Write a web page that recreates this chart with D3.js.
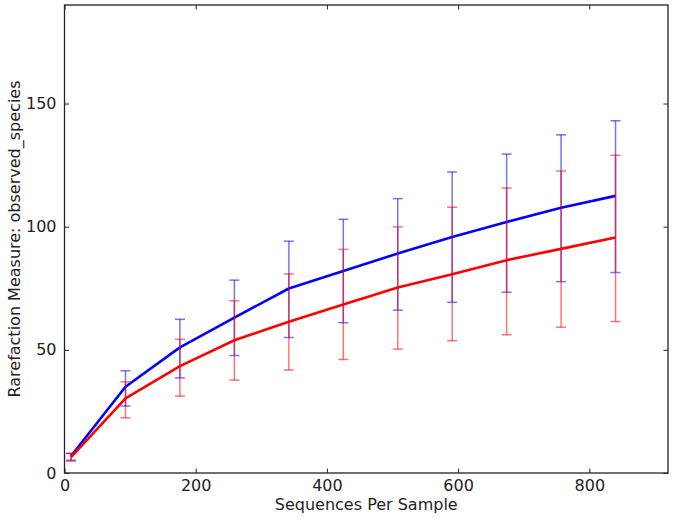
<!DOCTYPE html>
<html>
<head>
<meta charset="utf-8">
<script src="https://cdn.jsdelivr.net/npm/d3@7/dist/d3.min.js"></script>
<style>
  html, body { margin: 0; padding: 0; background: #fff; }
  svg { display: block; }
  text { font-family: "DejaVu Sans", sans-serif; fill: #222; }
</style>
</head>
<body>
<script>
const seqPerSample = [10, 93, 176, 259, 342, 425, 508, 591, 674, 757, 840];

const blueMean  = [6.9, 35.0, 51.0, 63.1, 74.9, 82.0, 89.1, 95.8, 101.9, 107.7, 112.5];
const blueLow   = [5.2, 27.2, 38.6, 47.7, 55.0, 61.0, 66.1, 69.3, 73.4, 77.7, 81.4];
const blueHigh  = [8.0, 41.5, 62.4, 78.3, 94.1, 103.0, 111.4, 122.2, 129.5, 137.3, 143.0];

const redMean   = [6.4, 30.3, 43.4, 53.9, 61.4, 68.4, 75.3, 80.7, 86.4, 91.0, 95.6];
const redLow    = [4.8, 22.4, 31.2, 37.7, 41.8, 46.1, 50.3, 53.7, 56.1, 59.2, 61.5];
const redHigh   = [7.9, 37.0, 54.3, 69.9, 80.8, 90.8, 99.9, 107.9, 115.7, 122.6, 129.0];

const xTicks = [0, 200, 400, 600, 800];
const yTicks = [0, 50, 100, 150];
const xTitle = "Sequences Per Sample";
const yTitle = "Rarefaction Measure: observed_species";

const W = 676, H = 519;
const m = { left: 64.5, right: 8, top: 5, bottom: 46 };
const FS = 16;

const svg = d3.select("body").append("svg").attr("width", W).attr("height", H);

const x = d3.scaleLinear().domain([0, 920]).range([m.left, W - m.right]);
const y = d3.scaleLinear().domain([0, 190]).range([H - m.bottom, m.top]);

const series = [
  { color: "#0000ff", mean: blueMean, low: blueLow, high: blueHigh },
  { color: "#ff0000", mean: redMean, low: redLow, high: redHigh }
];

const g = svg.append("g");
series.forEach(s => {
  const pts = seqPerSample.map((v, i) => ({ x: v, m: s.mean[i], lo: s.low[i], hi: s.high[i] }));
  const eb = g.append("g").attr("stroke", s.color).attr("stroke-opacity", 0.55).attr("stroke-width", 1.5);
  pts.forEach(p => {
    eb.append("line").attr("x1", x(p.x)).attr("x2", x(p.x)).attr("y1", y(p.lo)).attr("y2", y(p.hi));
    eb.append("line").attr("x1", x(p.x) - 5).attr("x2", x(p.x) + 5).attr("y1", y(p.lo)).attr("y2", y(p.lo));
    eb.append("line").attr("x1", x(p.x) - 5).attr("x2", x(p.x) + 5).attr("y1", y(p.hi)).attr("y2", y(p.hi));
  });
  g.append("path").datum(pts)
    .attr("fill", "none").attr("stroke", s.color).attr("stroke-width", 2.6)
    .attr("stroke-linejoin", "round")
    .attr("d", d3.line().x(d => x(d.x)).y(d => y(d.m)));
});

// Axes (ticks inward, on all four sides)
const tickLen = 4.5;
const axB = svg.append("g").attr("transform", `translate(0,${H - m.bottom})`)
  .call(d3.axisBottom(x).tickValues(xTicks).tickSizeInner(-tickLen).tickSizeOuter(0).tickPadding(7).tickFormat(d3.format("d")));
const axT = svg.append("g").attr("transform", `translate(0,${m.top})`)
  .call(d3.axisTop(x).tickValues(xTicks).tickSizeInner(-tickLen).tickSizeOuter(0).tickFormat(""));
const axL = svg.append("g").attr("transform", `translate(${m.left},0)`)
  .call(d3.axisLeft(y).tickValues(yTicks).tickSizeInner(-tickLen).tickSizeOuter(0).tickPadding(8).tickFormat(d3.format("d")));
const axR = svg.append("g").attr("transform", `translate(${W - m.right},0)`)
  .call(d3.axisRight(y).tickValues(yTicks).tickSizeInner(-tickLen).tickSizeOuter(0).tickFormat(""));

[axB, axT, axL, axR].forEach(a => {
  a.select(".domain").remove();
  a.selectAll(".tick line").attr("stroke", "#222").attr("stroke-width", 1);
  a.selectAll("text").attr("font-size", FS).attr("fill", "#222").attr("font-family", "DejaVu Sans, sans-serif");
});

svg.append("rect").attr("x", m.left).attr("y", m.top)
  .attr("width", W - m.right - m.left).attr("height", H - m.bottom - m.top)
  .attr("fill", "none").attr("stroke", "#222").attr("stroke-width", 1.3);

svg.append("text").attr("x", (m.left + W - m.right) / 2).attr("y", 510)
  .attr("text-anchor", "middle").attr("font-size", FS).text(xTitle);
svg.append("text").attr("transform", `translate(20,${(m.top + H - m.bottom) / 2}) rotate(-90)`)
  .attr("text-anchor", "middle").attr("font-size", FS).text(yTitle);
</script>
</body>
</html>
